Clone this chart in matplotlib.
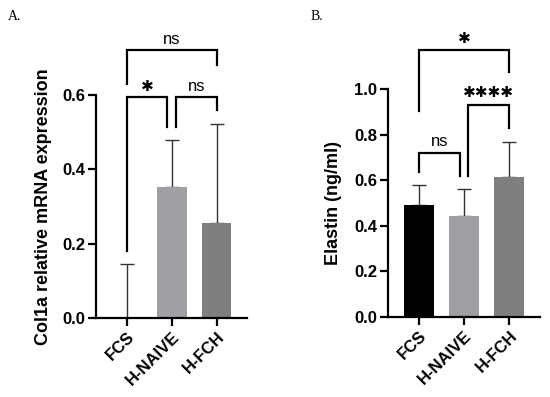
import matplotlib
matplotlib.use("Agg")
import matplotlib.pyplot as plt

categories = ["FCS", "H-NAIVE", "H-FCH"]
colors = ["#000000", "#a0a0a4", "#7f7f7f"]

# Panel A: Col1a relative mRNA expression
a_means = [0.0, 0.352, 0.256]
a_err = [0.145, 0.128, 0.265]
a_yticks = [0.0, 0.2, 0.4, 0.6]

# Panel B: Elastin (ng/ml)
b_means = [0.492, 0.442, 0.615]
b_err = [0.086, 0.117, 0.153]
b_yticks = [0.0, 0.2, 0.4, 0.6, 0.8, 1.0]

# Significance brackets: (x1, x2, y_bar, y_left, y_right, label)
a_brackets = [
    (0.0, 0.9, 0.594, 0.18, 0.515, "✱"),
    (1.1, 2.0, 0.594, 0.515, 0.56, "ns"),
    (0.0, 2.0, 0.72, 0.63, 0.68, "ns"),
]
b_brackets = [
    (0.0, 0.9, 0.717, 0.637, 0.62, "ns"),
    (1.08, 2.0, 0.93, 0.62, 0.83, "✱✱✱✱"),
    (0.0, 2.0, 1.17, 0.903, 1.076, "✱"),
]

W, H = 550, 397
fig = plt.figure(figsize=(W / 100, H / 100), dpi=100)
fig.patch.set_facecolor("white")

FONT = "Liberation Sans"


def make_axes(left, right, bottom, top):
    return fig.add_axes([left / W, 1 - bottom / H, (right - left) / W, (bottom - top) / H])


def style(ax, means, err, yticks, ylabel, label_x, ymax):
    x = list(range(len(categories)))
    ax.bar(x, means, width=0.66, color=colors, zorder=2)
    ax.errorbar(x, means, yerr=[[0] * len(err), err], fmt="none", ecolor="#333333",
                elinewidth=1.0, capsize=5, capthick=1.0, zorder=1)
    ax.set_xlim(-0.69, 2.68)
    ax.set_ylim(0, ymax)
    ax.set_yticks(yticks)
    ax.set_yticklabels([f"{t:.1f}" for t in yticks], fontfamily=FONT,
                       fontweight="bold", fontsize=12)
    ax.set_xticks(x)
    ax.set_xticklabels(categories, rotation=45, ha="right", rotation_mode="anchor",
                       fontfamily=FONT, fontweight="bold", fontsize=12)
    for s in ["top", "right"]:
        ax.spines[s].set_visible(False)
    for s in ["left", "bottom"]:
        ax.spines[s].set_linewidth(1.6)
    ax.tick_params(axis="both", width=1.6, length=6, direction="out", pad=2)
    ax.set_ylabel(ylabel, fontfamily=FONT, fontweight="bold", fontsize=13)
    ax.yaxis.set_label_coords(label_x, 0.5)


def brackets(ax, items, text_off):
    for x1, x2, yb, yl, yr, lab in items:
        ax.plot([x1, x1, x2, x2], [yl, yb, yb, yr], color="black", lw=1.6,
                clip_on=False, solid_joinstyle="miter", zorder=3)
        if lab == "ns":
            ax.text((x1 + x2) / 2, yb + text_off, lab, ha="center", va="bottom",
                    fontfamily=FONT, fontsize=12, clip_on=False)
        else:
            ax.text((x1 + x2) / 2, yb + text_off, lab, ha="center", va="bottom",
                    fontfamily=["DejaVu Sans"], fontsize=11, clip_on=False)


axA = make_axes(96, 247, 318, 95)
style(axA, a_means, a_err, a_yticks, "Col1a relative mRNA expression", -0.29, 0.6)
brackets(axA, a_brackets, 0.01)

axB = make_axes(388, 540, 316.7, 89)
style(axB, b_means, b_err, b_yticks, "Elastin (ng/ml)", -0.30, 1.0)
brackets(axB, b_brackets, 0.02)

fig.text(8 / W, 1 - 16 / H, "A.", fontfamily="Liberation Serif", fontsize=10,
         ha="left", va="center")
fig.text(311 / W, 1 - 17 / H, "B.", fontfamily="Liberation Serif", fontsize=10,
         ha="left", va="center")

fig.savefig("out.png", dpi=100)
